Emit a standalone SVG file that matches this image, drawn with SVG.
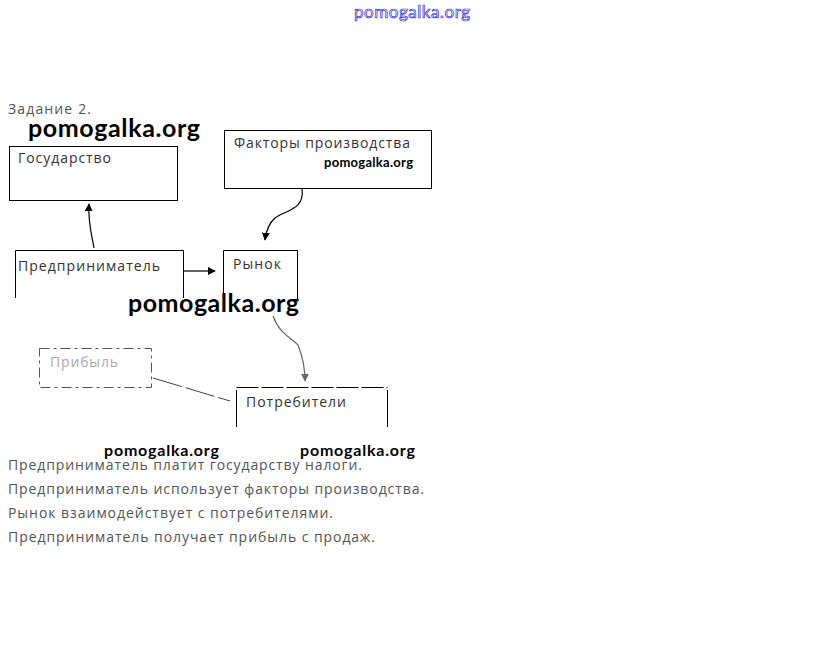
<svg xmlns="http://www.w3.org/2000/svg" width="823" height="648" viewBox="0 0 823 648">
<style>
.t{font-family:"Open Sans","Liberation Sans",sans-serif;font-size:14px;fill:#333}
.g{fill:#555}
.wm{font-family:Lato,"Liberation Sans",sans-serif;font-weight:bold;fill:#000}
.box{fill:none;stroke:#000;stroke-width:1}
.ln{fill:none;stroke:#000;stroke-width:1.2}
</style>
<defs>
<marker id="ah" viewBox="0 0 10 10" refX="9" refY="5" markerWidth="8" markerHeight="8" orient="auto" markerUnits="userSpaceOnUse"><path d="M0,0 L10,5 L0,10 z" fill="#000"/></marker>
<marker id="ahg" viewBox="0 0 10 10" refX="9" refY="5" markerWidth="8" markerHeight="8" orient="auto" markerUnits="userSpaceOnUse"><path d="M0,0 L10,5 L0,10 z" fill="#666"/></marker>
</defs>
<rect width="823" height="648" fill="#fff"/>
<text x="354" y="18" font-family="Lato,'Liberation Sans',sans-serif" font-size="17" fill="#fff" stroke="#2a2ad0" stroke-width="0.7" textLength="116">pomogalka.org</text>
<text class="t g" x="8" y="114" font-size="13" textLength="83">Задание 2.</text>
<text class="wm" x="28" y="137" font-size="25" textLength="172">pomogalka.org</text>
<g id="gosudarstvo">
<rect class="box" x="9.5" y="146.5" width="168" height="54"/>
<text class="t" x="18" y="163" textLength="93">Государство</text>
</g>
<g id="faktory">
<rect class="box" x="224.5" y="130.5" width="207" height="58"/>
<text class="t" x="234" y="148" textLength="176">Факторы производства</text>
<text class="wm" x="324" y="167" font-size="13" textLength="89">pomogalka.org</text>
</g>
<g id="predprinimatel">
<path class="box" d="M15.5,298 V250.5 H183.5 V298"/>
<text class="t" x="18" y="271" textLength="142">Предприниматель</text>
</g>
<g id="rynok">
<path class="box" d="M223.5,300 V250.5 H297.5 V300"/>
<text class="t" x="233" y="269" textLength="48">Рынок</text>
</g>
<g id="pribyl">
<rect x="39.5" y="348.5" width="112" height="39" fill="none" stroke="#555" stroke-width="1" stroke-dasharray="10,4,3,4"/>
<text class="t" x="50" y="367" style="fill:#aaa" textLength="68">Прибыль</text>
</g>
<g id="potrebiteli">
<path d="M236.5,387.5 H387.5" fill="none" stroke="#000" stroke-width="1" stroke-dasharray="22,3"/>
<path class="box" d="M236.5,427 V390 M387.5,390 V427"/>
<text class="t" x="246" y="407" textLength="100">Потребители</text>
</g>
<g id="connectors">
<path class="ln" d="M94,248 C92,235 88,225 89,204" marker-end="url(#ah)"/>
<path class="ln" d="M302,189 C305,210 285,210 275,218 C268,224 266,232 265,240" marker-end="url(#ah)"/>
<path class="ln" d="M184,271 H215" marker-end="url(#ah)"/>
<path d="M273,316 C280,335 292,338 298,345 C302,355 305,368 305,381" fill="none" stroke="#666" stroke-width="1.2" marker-end="url(#ahg)"/>
<path d="M153,378 L230,401" fill="none" stroke="#444" stroke-width="1" stroke-dasharray="30,4"/>
</g>
<text class="wm" x="128" y="312" font-size="25" textLength="171">pomogalka.org</text>
<text class="wm" x="104" y="456" font-size="16" textLength="115">pomogalka.org</text>
<text class="wm" x="300" y="456" font-size="16" textLength="115">pomogalka.org</text>
<text class="t g" x="8" y="470" textLength="354">Предприниматель платит государству налоги.</text>
<text class="t g" x="8" y="494" textLength="416">Предприниматель использует факторы производства.</text>
<text class="t g" x="8" y="518" textLength="325">Рынок взаимодействует с потребителями.</text>
<text class="t g" x="8" y="542" textLength="367">Предприниматель получает прибыль с продаж.</text>
</svg>
